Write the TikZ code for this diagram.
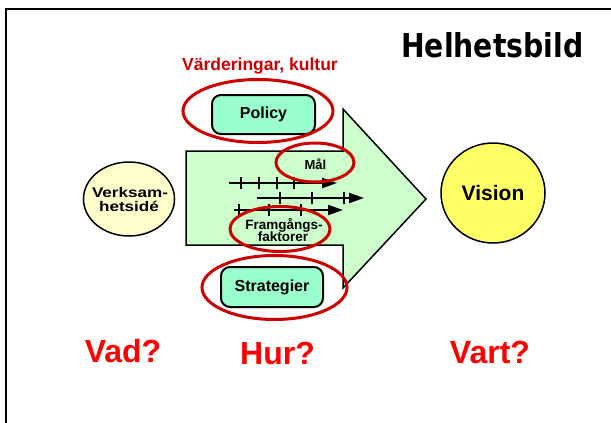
\documentclass[tikz,border=0pt]{standalone}
\usepackage{fontspec}
\setmainfont{Liberation Sans}
\newfontfamily\titlefont{DejaVu Sans}
\usetikzlibrary{shapes.geometric,arrows.meta}
\definecolor{ringred}{RGB}{204,0,0}
\definecolor{arrowgreen}{RGB}{204,255,204}
\definecolor{boxgreen}{RGB}{153,255,204}
\definecolor{ideacol}{RGB}{255,255,204}
\definecolor{visionyellow}{RGB}{255,255,102}
\definecolor{qred}{RGB}{255,0,0}
\begin{document}
\begin{tikzpicture}[x=1pt,y=-1pt,
 ring/.style={draw=ringred, line width=3pt, ellipse, inner sep=0pt},
 pbox/.style={draw=black, line width=2pt, fill=boxgreen, rounded corners=9pt, minimum width=102pt, minimum height=40pt, inner sep=0pt, font=\bfseries\fontsize{16}{19}\selectfont},
 bubble/.style={draw=black, line width=1.5pt, ellipse, inner sep=0pt},
 timeline/.style={line width=2pt, -{Triangle[length=15pt,width=10pt]}},
 tickmark/.style={line width=2pt},
 smalltext/.style={font=\bfseries\fontsize{13.5}{15}\selectfont, anchor=base, inner sep=0pt},
 question/.style={text=qred, font=\bfseries\fontsize{32}{38}\selectfont, anchor=base, inner sep=0pt},
]
\useasboundingbox (0,0) rectangle (611,423);
\fill[white] (0,0) rectangle (611,423);
\clip (0,0) rectangle (611,423);
% frame
\draw[line width=2.5pt] (6,9) rectangle (640,450);
% title
\node[anchor=base west, inner sep=0pt] (title) at (401,57) {\resizebox{182pt}{25pt}{\titlefont\bfseries Helhetsbild}};
\node[font=\bfseries\fontsize{17.5}{20}\selectfont, text=ringred, anchor=base, inner sep=0pt] (values) at (260,70) {Värderingar, kultur};
% big arrow
\draw[fill=arrowgreen, line width=1.5pt, line join=miter]
 (186,151) -- (343,151) -- (343,109) -- (426,199) -- (343,288) -- (343,245) -- (186,245) -- cycle;
% circles
\node[bubble, fill=ideacol, minimum width=91pt, minimum height=74pt] (idea) at (129,199) {};
\node[smalltext, font=\bfseries\fontsize{14}{16}\selectfont] (idea1) at (130,197) {\scalebox{1.22}[1]{Verksam-}};
\node[smalltext, font=\bfseries\fontsize{14}{16}\selectfont] (idea2) at (129,211) {\scalebox{1.22}[1]{hetsidé}};
\node[bubble, fill=visionyellow, minimum width=104pt, minimum height=100pt, font=\bfseries\fontsize{21}{24}\selectfont] (vision) at (493,193) {Vision};
% boxes
\node[pbox, minimum width=103pt, minimum height=39pt] (policy) at (263.5,114.5) {Policy};
\node[pbox] (strat) at (272,287) {Strategier};
% time lines
\draw[timeline] (229,183) -- (337,183);
\foreach \x in {241,259,277,294} \draw[tickmark] (\x,177) -- (\x,189);
\draw[timeline] (257,198) -- (364,198);
\foreach \x in {280,312,344} \draw[tickmark] (\x,192) -- (\x,204);
\draw[timeline] (234,210) -- (343,210);
\foreach \x in {239,269,301} \draw[tickmark] (\x,204) -- (\x,216);
% labels
\node[smalltext, font=\bfseries\fontsize{13}{15}\selectfont] (mal) at (315.5,169) {Mål};
\node[smalltext] (fg1) at (284,229) {Framgångs-};
\node[smalltext] (fg2) at (283,241) {faktorer};
% red rings
\node[ring, minimum width=150pt, minimum height=63pt] (policyring) at (258,111) {};
\node[ring, minimum width=78pt, minimum height=39pt] (malring) at (315,162.5) {};
\node[ring, minimum width=100pt, minimum height=45pt] (fgring) at (280,229) {};
\node[ring, minimum width=145pt, minimum height=64pt] (stratring) at (274.5,287.5) {};
% questions
\node[question] (vad) at (123,362) {Vad?};
\node[question] (hur) at (277.5,364) {Hur?};
\node[question] (vart) at (490,363) {Vart?};
\end{tikzpicture}
\end{document}
